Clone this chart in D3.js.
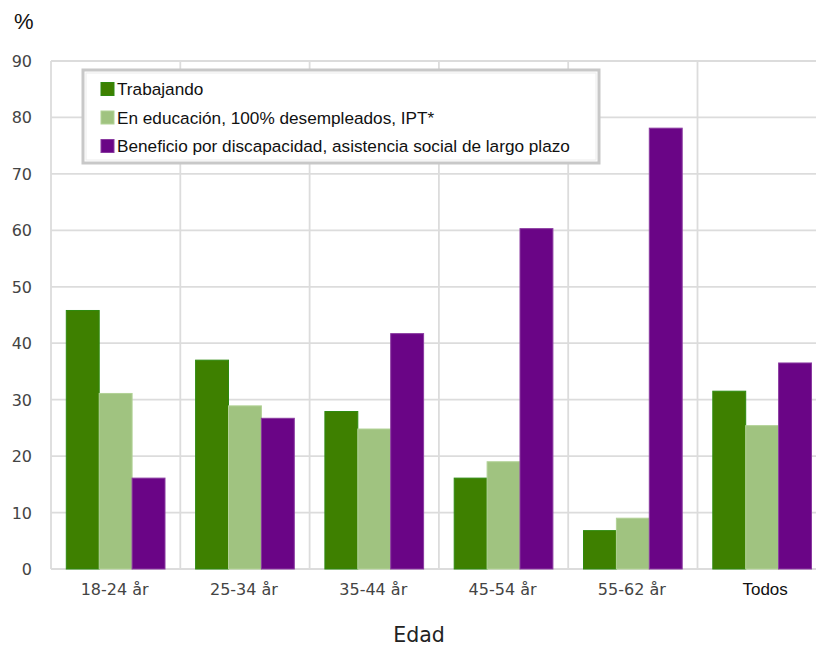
<!DOCTYPE html>
<html lang="es">
<head>
<meta charset="UTF-8">
<title>Edad</title>
<script src="https://d3js.org/d3.v7.min.js"></script>
<style>
  body { margin: 0; background: #fff; }
</style>
</head>
<body>
<div id="chart"></div>
<script>
// data
const categories = ["18-24 år", "25-34 år", "35-44 år", "45-54 år", "55-62 år", "Todos"];
const seriesNames = ["Trabajando", "En educación, 100% desempleados, IPT*", "Beneficio por discapacidad, asistencia social de largo plazo"];
const trabajando = [45.8, 37.0, 27.9, 16.1, 6.8, 31.5];
const educacion = [31.1, 28.9, 24.8, 19.0, 9.0, 25.4];
const beneficio = [16.1, 26.7, 41.7, 60.3, 78.1, 36.5];
const yTicks = [0, 10, 20, 30, 40, 50, 60, 70, 80, 90];

const fills = ["#3e8000", "#a0c380", "#6a0586"];
const strokes = ["#2f8a10", "#b2d296", "#8a3aa0"];

const W = 816, H = 646;
const plotLeft = 51, plotTop = 61, plotBottom = 569;
const groupW = 129.3;

const svg = d3.select("#chart").append("svg")
  .attr("width", W).attr("height", H)
  .style("font-family", "'DejaVu Sans', sans-serif");

const y = d3.scaleLinear().domain([0, 90]).range([plotBottom, plotTop]);
const x = d3.scaleBand().domain(categories)
  .range([plotLeft, plotLeft + groupW * categories.length]);
const xs = d3.scaleBand().domain(d3.range(3)).range([15.3, 114]);

// gridlines
svg.append("g").selectAll("line").data(yTicks).join("line")
  .attr("x1", plotLeft).attr("x2", W)
  .attr("y1", d => y(d)).attr("y2", d => y(d))
  .attr("stroke", "#dcdcdc").attr("stroke-width", 1.8);
svg.append("g").selectAll("line").data(categories).join("line")
  .attr("x1", d => x(d)).attr("x2", d => x(d))
  .attr("y1", plotTop).attr("y2", plotBottom)
  .attr("stroke", "#dcdcdc").attr("stroke-width", 1.8);

// y tick labels
svg.append("g").selectAll("text").data(yTicks).join("text")
  .attr("x", 32).attr("y", d => y(d) + 6)
  .attr("text-anchor", "end")
  .attr("font-size", 16).attr("fill", "#444")
  .text(d => d);

svg.append("text").attr("x", 14).attr("y", 29)
  .attr("font-family", "'Liberation Sans', Arial, sans-serif")
  .attr("font-size", 22).attr("fill", "#111").text("%");

// bars
const rows = categories.map((c, i) => ({ c, v: [trabajando[i], educacion[i], beneficio[i]] }));
const g = svg.append("g").selectAll("g").data(rows).join("g")
  .attr("transform", d => "translate(" + x(d.c) + ",0)");
g.selectAll("rect").data(d => d.v).join("rect")
  .attr("x", (d, i) => xs(i))
  .attr("width", xs.bandwidth())
  .attr("y", d => y(d))
  .attr("height", d => y(0) - y(d))
  .attr("fill", (d, i) => fills[i])
  .attr("stroke", (d, i) => strokes[i])
  .attr("stroke-width", 1);

// x tick labels
svg.append("g").selectAll("text").data(categories).join("text")
  .attr("x", d => x(d) + x.bandwidth() / 2 + (d === "Todos" ? 3 : -1))
  .attr("y", 595)
  .attr("text-anchor", "middle")
  .attr("font-family", d => d === "Todos" ? "'Liberation Sans', Arial, sans-serif" : "'DejaVu Sans', sans-serif")
  .attr("font-size", d => d === "Todos" ? 17 : 16)
  .attr("fill", d => d === "Todos" ? "#111" : "#444")
  .text(d => d);

svg.append("text").attr("x", 419).attr("y", 642)
  .attr("text-anchor", "middle")
  .attr("font-size", 20.5).attr("fill", "#222").text("Edad");

// legend
const lg = svg.append("g");
lg.append("rect").attr("x", 83).attr("y", 70).attr("width", 516).attr("height", 93)
  .attr("fill", "#fff").attr("stroke", "#c8c8c8").attr("stroke-width", 3);
lg.append("rect").attr("x", 86).attr("y", 73).attr("width", 510).attr("height", 87)
  .attr("fill", "none").attr("stroke", "#ececec").attr("stroke-width", 1);
const item = lg.selectAll("g").data(seriesNames).join("g")
  .attr("transform", (d, i) => "translate(101," + (89 + i * 28.5) + ")");
item.append("rect").attr("x", 0).attr("y", -6.5).attr("width", 13).attr("height", 13)
  .attr("fill", (d, i) => fills[i]).attr("stroke", (d, i) => strokes[i]);
item.append("text").attr("x", 16).attr("y", 6)
  .attr("font-family", "'Liberation Sans', Arial, sans-serif")
  .attr("font-size", 17.2).attr("fill", "#111")
  .text(d => d);
</script>
</body>
</html>
